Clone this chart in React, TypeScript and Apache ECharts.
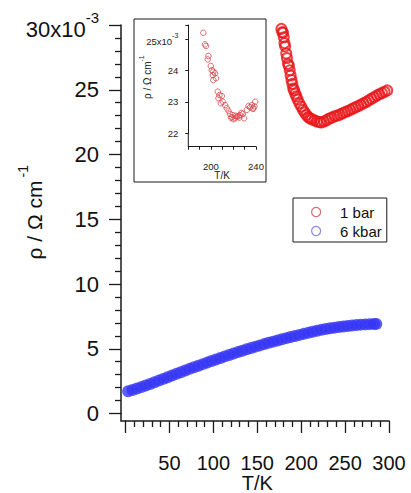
import React, { useEffect, useRef } from 'react';
import * as echarts from 'echarts';

// ---- axis ranges / tick steps ----
const mainXRange = [0, 300];
const mainXStep = 50;
const mainYRange = [0, 30];
const mainYStep = 5;
const insetXRange = [180, 240];
const insetXStep = 10;
const insetXLabels = [200, 240];
const insetYRange = [22, 25.46];
const insetYStep = 1;

// ---- series names ----
const seriesNames = ['1 bar', '6 kbar'];

// ---- 1 bar (main plot), T [K], rho [1e-3 Ω cm] ----
const bar1T = [177.5, 178.5, 179.3, 180.2, 181, 181.8, 183, 183.8, 185, 186, 187, 188, 189, 190, 191, 192, 193.2, 194.5, 196, 198, 200, 202, 204, 206, 208, 210, 212, 215, 218, 221, 223, 226, 229, 232, 235, 238, 241, 244, 247, 250, 253, 256, 259, 262, 265, 268, 271, 274, 277, 280, 283, 286, 289, 292, 295, 298];
const bar1Rho = [29.7, 29.45, 29.4, 29.05, 28.6, 28.35, 27.8, 27.45, 27.0, 26.85, 26.5, 26.1, 25.75, 25.45, 25.1, 24.95, 24.7, 24.5, 24.25, 23.95, 23.7, 23.45, 23.25, 23.05, 22.9, 22.8, 22.72, 22.64, 22.55, 22.5, 22.48, 22.55, 22.65, 22.78, 22.85, 22.95, 23.0, 23.08, 23.18, 23.27, 23.35, 23.45, 23.55, 23.65, 23.75, 23.85, 23.95, 24.05, 24.18, 24.3, 24.42, 24.55, 24.65, 24.75, 24.85, 24.95];

// ---- 6 kbar (main plot) ----
const kbar6T = [3, 8, 13, 18, 23, 28, 33, 38, 43, 48, 53, 58, 63, 68, 73, 78, 83, 88, 93, 98, 103, 108, 113, 118, 123, 128, 133, 138, 143, 148, 153, 158, 163, 168, 173, 178, 183, 188, 193, 198, 203, 208, 213, 218, 223, 228, 233, 238, 243, 248, 253, 258, 263, 268, 273, 278, 283, 285.5];
const kbar6Rho = [1.72, 1.82, 1.93, 2.04, 2.16, 2.28, 2.41, 2.54, 2.67, 2.8, 2.93, 3.06, 3.19, 3.32, 3.45, 3.57, 3.69, 3.81, 3.93, 4.05, 4.17, 4.29, 4.41, 4.52, 4.63, 4.74, 4.85, 4.96, 5.06, 5.16, 5.26, 5.36, 5.46, 5.55, 5.64, 5.73, 5.82, 5.91, 5.99, 6.07, 6.15, 6.23, 6.31, 6.39, 6.46, 6.52, 6.58, 6.63, 6.68, 6.72, 6.76, 6.8, 6.83, 6.86, 6.88, 6.9, 6.91, 6.92];

// ---- inset (1 bar, zoomed) ----
const insetT = [193.3, 194.8, 195.7, 197.2, 197.8, 199.9, 200.8, 201.7, 202.2, 202.2, 203.7, 204.6, 206.1, 206.7, 207.6, 208.8, 209.7, 210.6, 212.6, 214.1, 215.6, 217.1, 217.8, 218.6, 219.5, 220, 221.5, 222.2, 223, 224.4, 225.2, 225.9, 227, 228.3, 229.5, 231.9, 233.4, 234.8, 236.4, 237.2, 237.8, 238.6, 239.3];
const insetRho = [25.21, 24.84, 24.79, 24.36, 24.47, 24.15, 24.02, 23.86, 23.97, 23.7, 23.92, 23.76, 23.33, 23.12, 23.22, 22.96, 23.19, 23.01, 22.9, 22.8, 22.72, 22.62, 22.5, 22.51, 22.58, 22.45, 22.48, 22.56, 22.53, 22.55, 22.5, 22.58, 22.65, 22.62, 22.48, 22.75, 22.87, 22.83, 22.9, 22.78, 22.8, 22.86, 23.01];

const FONT = '"Liberation Sans", Arial, Helvetica, sans-serif';
const INK = '#1a1a1a';

function pairs(xs: number[], ys: number[]) {
  return xs.map((x, i) => [x, ys[i]]);
}

export default function App() {
  const ref = useRef<HTMLDivElement>(null);
  useEffect(() => {
    if (!ref.current) return;
    const chart = echarts.init(ref.current, undefined, { renderer: 'svg' });
    const line = { color: INK, width: 1.5 };
    const tick = { color: INK, width: 1.3 };
    const thin = { color: INK, width: 1 };
    const option: any = {
      animation: false,
      backgroundColor: '#ffffff',
      textStyle: { fontFamily: FONT },
      grid: [
        { left: 125.5, top: 25, width: 263.5, height: 388.5, containLabel: false, outerBoundsMode: 'none' },
        { left: 188.3, top: 25, width: 67.7, height: 108.3, containLabel: false, outerBoundsMode: 'none' },
      ],
      graphic: [
        {
          type: 'rect',
          shape: { x: 134, y: 19, width: 132, height: 163 },
          style: { fill: 'none', stroke: INK, lineWidth: 1 },
          z: 0,
        },
        {
          type: 'polyline',
          shape: { points: [[121, 413], [121, 421], [126, 421]] },
          style: { fill: 'none', stroke: INK, lineWidth: 1.5 },
          z: 5,
        },
        {
          type: 'line',
          shape: { x1: 188.3, y1: 133, x2: 188.3, y2: 146.7 },
          style: { stroke: INK, lineWidth: 1 },
          z: 5,
        },
      ],
      legend: {
        orient: 'vertical',
        left: 293,
        top: 198,
        itemWidth: 38,
        itemHeight: 9,
        itemGap: 3,
        padding: [6, 5, 3, 18],
        borderColor: INK,
        borderWidth: 1,
        backgroundColor: '#ffffff',
        textStyle: { fontSize: 15, fontFamily: FONT, color: '#111', lineHeight: 16 },
        data: [
          { name: seriesNames[0], icon: 'circle', itemStyle: { color: 'rgba(0,0,0,0)', borderColor: '#c84a4a', borderWidth: 1.2 } },
          { name: seriesNames[1], icon: 'circle', itemStyle: { color: 'rgba(0,0,0,0)', borderColor: '#6b6bd6', borderWidth: 1.2 } },
        ],
      },
      xAxis: [
        {
          gridIndex: 0, type: 'value', min: mainXRange[0], max: mainXRange[1], interval: mainXStep,
          position: 'bottom', offset: 7.5,
          axisLine: { show: true, onZero: false, lineStyle: line },
          axisTick: { show: true, length: 12, lineStyle: tick },
          minorTick: { show: true, splitNumber: 5, length: 6, lineStyle: tick },
          axisLabel: {
            show: true, fontSize: 20, lineHeight: 18, margin: 33, color: '#111', fontFamily: FONT,
            formatter: (v: number) => (v === 0 ? '' : String(v)),
          },
          splitLine: { show: false },
          minorSplitLine: { show: false },
          name: 'T/K', nameLocation: 'middle', nameGap: 53, nameMoveOverlap: false,
          nameTextStyle: { fontSize: 20, lineHeight: 18, color: '#111', fontFamily: FONT },
        },
        {
          gridIndex: 1, type: 'value', min: insetXRange[0], max: insetXRange[1], interval: insetXStep,
          position: 'bottom', offset: 13.4,
          axisLine: { show: true, onZero: false, lineStyle: thin },
          axisTick: { show: true, length: 3, lineStyle: thin },
          axisLabel: {
            show: true, fontSize: 9.5, lineHeight: 9, margin: 15, color: '#222', fontFamily: FONT,
            formatter: (v: number) => (insetXLabels.indexOf(v) >= 0 ? String(v) : ''),
          },
          splitLine: { show: false },
          name: 'T/K', nameLocation: 'middle', nameGap: 24, nameMoveOverlap: false,
          nameTextStyle: { fontSize: 10, lineHeight: 10, color: '#222', fontFamily: FONT },
        },
      ],
      yAxis: [
        {
          gridIndex: 0, type: 'value', min: mainYRange[0], max: mainYRange[1], interval: mainYStep,
          position: 'left', offset: 4.5,
          axisLine: { show: true, onZero: false, lineStyle: line },
          axisTick: { show: true, length: 12, lineStyle: tick },
          minorTick: { show: true, splitNumber: 5, length: 6, lineStyle: tick },
          axisLabel: {
            show: true, fontSize: 22, margin: 22, color: '#111', fontFamily: FONT,
            formatter: (v: number) => (v === 30 ? '{a|30x10}{s|-3}' : String(v)),
            rich: {
              a: { fontSize: 22, fontFamily: FONT, color: '#111', padding: [8, 0, 0, 0] },
              s: { fontSize: 15, fontFamily: FONT, color: '#111', verticalAlign: 'top' },
            },
          },
          splitLine: { show: false },
          minorSplitLine: { show: false },
          name: '{a|ρ / Ω cm}{s|-1}', nameLocation: 'middle', nameGap: 76, nameMoveOverlap: false,
          nameTextStyle: {
            padding: [0, 0, 0, 14],
            rich: {
              a: { fontSize: 21, fontFamily: FONT, color: '#111', padding: [8, 0, 0, 0] },
              s: { fontSize: 14, fontFamily: FONT, color: '#111', verticalAlign: 'top', padding: [0, 0, 0, 3] },
            },
          },
        },
        {
          gridIndex: 1, type: 'value', min: insetYRange[0], max: insetYRange[1], interval: insetYStep,
          position: 'left',
          axisLine: { show: true, onZero: false, lineStyle: thin },
          axisTick: { show: true, length: 3, lineStyle: thin },
          axisLabel: {
            show: true, fontSize: 9.5, margin: 10, color: '#222', fontFamily: FONT,
            formatter: (v: number) => (v === 25 ? '{a|25x10}{s|-3}' : Number.isInteger(v) ? String(v) : ''),
            rich: {
              a: { fontSize: 9.5, fontFamily: FONT, color: '#222', padding: [4, 0, 0, 0] },
              s: { fontSize: 7, fontFamily: FONT, color: '#222', verticalAlign: 'top' },
            },
          },
          splitLine: { show: false },
          name: '{a|ρ / Ω cm}{s|-1}', nameLocation: 'middle', nameGap: 36, nameMoveOverlap: false,
          nameTextStyle: {
            padding: [0, 0, 0, 4],
            rich: {
              a: { fontSize: 10, fontFamily: FONT, color: '#222', padding: [4, 0, 0, 0] },
              s: { fontSize: 7, fontFamily: FONT, color: '#222', verticalAlign: 'top' },
            },
          },
        },
      ],
      series: [
        {
          name: seriesNames[0], type: 'scatter', xAxisIndex: 0, yAxisIndex: 0,
          symbol: 'circle', symbolSize: 10,
          itemStyle: { color: 'rgba(0,0,0,0)', borderColor: '#e8161a', borderWidth: 2 },
          data: pairs(bar1T, bar1Rho),
        },
        {
          name: seriesNames[1], type: 'scatter', xAxisIndex: 0, yAxisIndex: 0,
          symbol: 'circle', symbolSize: 12,
          itemStyle: { color: '#3636f5' },
          data: pairs(kbar6T, kbar6Rho),
        },
        {
          name: 'inset', type: 'scatter', xAxisIndex: 1, yAxisIndex: 1,
          symbol: 'circle', symbolSize: 5.5,
          itemStyle: { color: 'rgba(0,0,0,0)', borderColor: '#d9484c', borderWidth: 1 },
          data: pairs(insetT, insetRho),
        },
      ],
    };
    chart.setOption(option);
    return () => chart.dispose();
  }, []);
  return <div ref={ref} style={{ position: 'absolute', left: 0, top: 0, width: 411, height: 493 }} />;
}
